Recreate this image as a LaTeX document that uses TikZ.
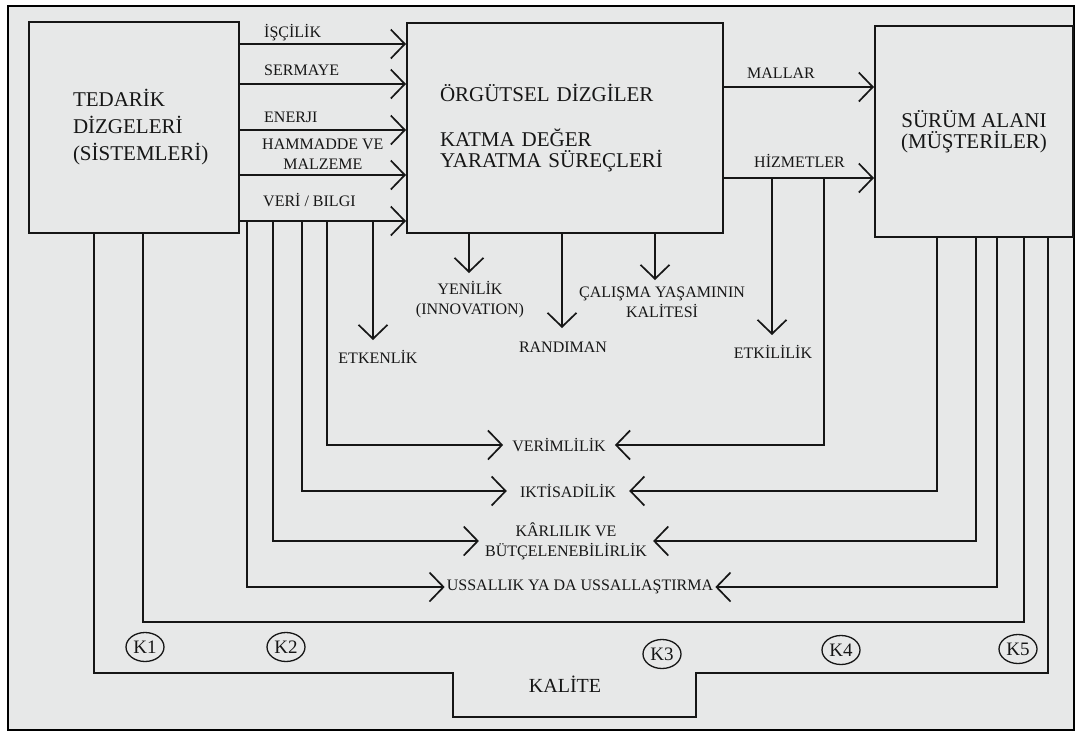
\documentclass[tikz,border=0pt]{standalone}
\usepackage{fontspec}
\setmainfont{Liberation Serif}
\usetikzlibrary{arrows.meta,positioning,calc,shapes.geometric}
\definecolor{paper}{HTML}{E7E8E8}
\definecolor{ink}{HTML}{161616}

\begin{document}
\begin{tikzpicture}[
  x=1pt, y=-1pt,
  box/.style={draw=ink, line width=2pt, inner sep=0pt, text=ink,
              font=\fontsize{21}{21}\selectfont},
  lbl/.style={font=\fontsize{16}{20}\selectfont, text=ink, inner sep=2pt,
              align=center},
  flow/.style={-{Straight Barb[length=14pt,width=29pt]}, draw=ink,
               line width=1.7pt},
  link/.style={draw=ink, line width=1.7pt},
  kmark/.style={ellipse, draw=ink, line width=1.3pt, inner sep=0pt,
                minimum width=38pt, minimum height=29pt,
                font=\fontsize{19}{19}\selectfont, text=ink},
]
\useasboundingbox (0,0) rectangle (1076,732);
\fill[white] (0,0) rectangle (1076,732);
\draw[line width=2.2pt, fill=paper] (8,6) rectangle (1074,730);

% --- the three blocks
\node[box, minimum width=210pt, minimum height=211pt, text width=122pt,
      align=left, font=\fontsize{21}{27}\selectfont] (ted) at (134,127.5)
  {TEDARİK\\DİZGELERİ\\(SİSTEMLERİ)};
\node[box, minimum width=316pt, minimum height=210pt, text width=250pt,
      align=left] (org) at (565,128)
  {ÖRGÜTSEL DİZGİLER\\[24pt]KATMA DEĞER\\YARATMA SÜREÇLERİ};
\node[box, minimum width=198pt, minimum height=211pt, align=center]
  (sur) at (974,131.5) {SÜRÜM ALANI\\(MÜŞTERİLER)};

% --- inputs, supplier -> organisation
\foreach \yy in {44,84,130,175,221}
  \draw[flow] (ted.east |- 0,\yy) -- (org.west |- 0,\yy);
\coordinate (vb) at (ted.east |- 0,221);

\node[lbl, anchor=west] (lisc) at (262,33)  {İŞÇİLİK};
\node[lbl, anchor=west] (lser) at (262,70)  {SERMAYE};
\node[lbl, anchor=west] (lene) at (262,117) {ENERJI};
\node[lbl, anchor=west] (lham) at (260,154) {HAMMADDE VE\\MALZEME};
\node[lbl, anchor=west] (lver) at (261,200) {VERİ / BILGI};

% --- outputs, organisation -> customers
\draw[flow] (org.east |- 0,87) -- (sur.west |- 0,87);
\draw[flow] (org.east |- 0,178) -- (sur.west |- 0,178);
\coordinate (hz) at (org.east |- 0,178);

\node[lbl, anchor=west] (lmal) at (745,73)  {MALLAR};
\node[lbl, anchor=west] (lhiz) at (752,161) {HİZMETLER};

% --- what falls out of the blocks
\coordinate (tyen) at (469,273);
\coordinate (tran) at (562,328);
\coordinate (tcal) at (655,280);
\coordinate (tetk) at (373,340);
\coordinate (tetl) at (772,335);

\draw[flow] (tyen |- org.south) -- (tyen);
\draw[flow] (tran |- org.south) -- (tran);
\draw[flow] (tcal |- org.south) -- (tcal);
\draw[flow] (tetk |- vb) -- (tetk);
\draw[flow] (tetl |- hz) -- (tetl);

\node[lbl] (yen) at (470,300) {YENİLİK\\(INNOVATION)};
\node[lbl] (ran) at (563,347) {RANDIMAN};
\node[lbl] (cal) at (662,302) {ÇALIŞMA YAŞAMININ\\KALİTESİ};
\node[lbl] (etk) at (378,357) {ETKENLİK};
\node[lbl] (etl) at (773,352) {ETKİLİLİK};

% --- the four ratios, fed from both sides
\node[lbl, inner xsep=9pt]  (verim) at (559,445) {VERİMLİLİK};
\node[lbl, inner xsep=13pt] (ikt)   at (568,491) {IKTİSADİLİK};
\node[lbl, inner xsep=6pt]  (kar)   at (566,541) {KÂRLILIK VE\\BÜTÇELENEBİLİRLİK};
\node[lbl, inner xsep=2pt]  (uss)   at (580,587) {USSALLIK YA DA USSALLAŞTIRMA};

\foreach \xx/\tgt in {327/verim, 302/ikt, 273/kar, 247/uss}
  \draw[flow] (\xx,0 |- vb) |- (\tgt.west);
\draw[flow] (824,0 |- hz) |- (verim.east);
\foreach \xx/\tgt in {937/ikt, 976/kar, 997/uss}
  \draw[flow] (\xx,0 |- sur.south) |- (\tgt.east);

% --- quality loops
\draw[link] (143,0 |- ted.south) |- (1024,622) -- (1024,0 |- sur.south);
\draw[link] (94,0 |- ted.south) |- (453,673) |- (696,717) |- (1048,673)
  -- (1048,0 |- sur.south);

\node[kmark] (k1) at (145,647) {K1};
\node[kmark] (k2) at (286,647) {K2};
\node[kmark] (k3) at (662,654) {K3};
\node[kmark] (k4) at (841,650) {K4};
\node[kmark] (k5) at (1018,649) {K5};
\node[lbl, font=\fontsize{20}{20}\selectfont] (kal) at (565,684) {KALİTE};
\end{tikzpicture}
\end{document}
